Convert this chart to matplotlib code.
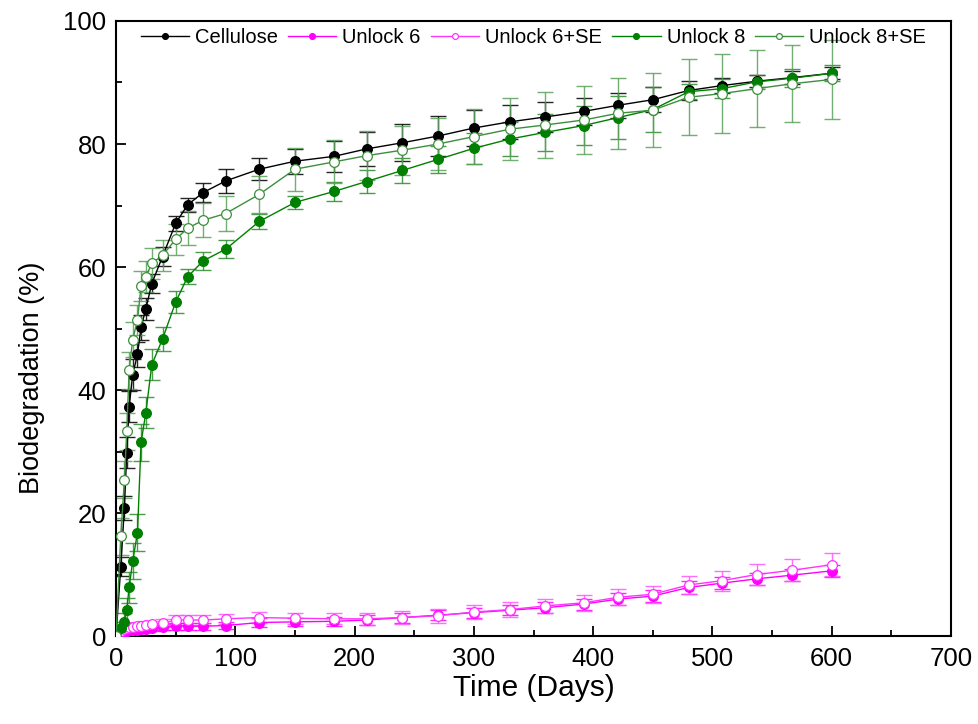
import numpy as np
import matplotlib
matplotlib.use('Agg')
import matplotlib.pyplot as plt
from matplotlib.ticker import MultipleLocator

plt.rcParams['font.family'] = ['Liberation Sans', 'DejaVu Sans']

days = [0, 4, 7, 9, 11, 14, 18, 21, 25, 30, 39, 50, 60, 73, 92, 120, 150, 183, 210,
        240, 270, 300, 330, 360, 392, 421, 450, 480, 508, 537, 567, 600]

cellulose = [0, 11.3, 20.8, 29.8, 37.3, 42.5, 45.8, 50.2, 53.2, 57.3, 61.7, 67.1, 70.1,
             72.1, 74.0, 75.9, 77.2, 78.0, 79.2, 80.2, 81.3, 82.6, 83.6, 84.4, 85.3,
             86.3, 87.2, 88.7, 89.5, 90.2, 90.8, 91.5]
cellulose_err = [0, 1.5, 2.0, 2.5, 2.5, 2.5, 2.0, 2.0, 1.8, 1.5, 1.5, 1.2, 1.1, 1.5,
                 2.0, 1.8, 2.0, 2.5, 2.8, 3.0, 3.2, 3.0, 2.8, 2.5, 2.2, 2.0, 2.0, 1.5,
                 1.2, 1.0, 1.0, 1.0]

unlock6 = [0, 0.5, 0.7, 0.8, 0.9, 1.0, 1.0, 1.1, 1.2, 1.3, 1.4, 1.6, 1.6, 1.6, 1.7,
           2.2, 2.3, 2.4, 2.6, 3.0, 3.4, 3.8, 4.2, 4.6, 5.2, 6.0, 6.5, 7.9, 8.6, 9.3,
           9.9, 10.6]
unlock6_err = [0, 0.3, 0.3, 0.4, 0.4, 0.4, 0.5, 0.5, 0.5, 0.5, 0.5, 0.6, 0.6, 0.6,
               0.6, 0.7, 0.7, 0.7, 0.8, 0.8, 0.8, 0.8, 0.8, 0.9, 0.9, 1.0, 1.0, 1.0,
               1.0, 1.0, 1.0, 1.0]

unlock6_se = [0, 0.8, 1.1, 1.3, 1.4, 1.5, 1.6, 1.7, 1.8, 1.9, 2.1, 2.6, 2.6, 2.6, 2.8,
              3.0, 2.9, 2.8, 2.8, 3.0, 3.3, 3.9, 4.3, 4.9, 5.4, 6.3, 6.8, 8.3, 9.0,
              10.0, 10.7, 11.6]
unlock6_se_err = [0, 0.4, 0.4, 0.5, 0.5, 0.5, 0.5, 0.6, 0.6, 0.6, 0.7, 0.8, 0.8, 0.8,
                  0.8, 0.9, 0.9, 0.9, 1.0, 1.0, 1.1, 1.1, 1.2, 1.2, 1.3, 1.3, 1.4, 1.5,
                  1.6, 1.7, 1.8, 1.9]

unlock8 = [0, 1.3, 2.3, 4.2, 7.9, 12.2, 16.8, 31.5, 36.3, 44.1, 48.3, 54.3, 58.4, 61.0,
           62.9, 67.4, 70.5, 72.3, 73.9, 75.7, 77.5, 79.3, 80.8, 81.9, 83.0, 84.3, 85.6,
           88.5, 89.0, 90.1, 90.7, 91.5]
unlock8_err = [0, 1.0, 1.5, 2.0, 2.5, 3.0, 3.0, 3.0, 2.5, 2.5, 2.0, 1.8, 1.2, 1.5, 1.5,
               1.2, 1.1, 1.5, 1.8, 2.0, 2.2, 2.5, 2.8, 3.0, 3.2, 3.5, 3.6, 1.2, 1.5, 1.2,
               1.5, 1.3]

unlock8_se = [0, 16.2, 25.4, 33.3, 43.2, 48.2, 51.4, 56.9, 58.4, 60.6, 61.9, 64.5, 66.3,
              67.6, 68.7, 71.8, 75.9, 77.1, 78.1, 79.0, 80.0, 81.2, 82.4, 83.1, 83.9,
              85.0, 85.5, 87.6, 88.2, 89.0, 89.8, 90.5]
unlock8_se_err = [0, 3.0, 3.0, 3.0, 3.0, 2.8, 2.5, 2.5, 2.5, 2.5, 2.5, 2.5, 2.8, 2.8,
                  2.8, 3.0, 3.5, 3.5, 4.0, 4.0, 4.3, 4.5, 5.0, 5.3, 5.6, 5.8, 6.0, 6.2,
                  6.4, 6.3, 6.3, 6.4]

series = [
    ("Cellulose", cellulose, cellulose_err, 'black', 'black', 'black', 'black'),
    ("Unlock 6", unlock6, unlock6_err, '#ff00ff', '#ff00ff', '#ff00ff', '#ff00ff'),
    ("Unlock 6+SE", unlock6_se, unlock6_se_err, '#ff33ff', 'white', '#ff33ff', '#ff55ff'),
    ("Unlock 8", unlock8, unlock8_err, '#008000', '#008000', '#008000', '#2e8b2e'),
    ("Unlock 8+SE", unlock8_se, unlock8_se_err, '#3c8f3c', 'white', '#3c8f3c', '#5aa05a'),
]

fig, ax = plt.subplots(figsize=(9.79, 7.24), dpi=100)
fig.subplots_adjust(left=0.1185, right=0.9714, top=0.971, bottom=0.1215)

for name, y, err, lc, fc, ec, errc in series:
    ax.errorbar(days, y, yerr=err, fmt='none', ecolor=errc, elinewidth=1.0,
                capsize=5.5, capthick=1.0, alpha=0.85, zorder=2)
    ax.plot(days, y, '-', color=lc, lw=1.0, marker='o', ms=7, mfc=fc, mec=ec,
            mew=0.9, label=name, zorder=3)

ax.set_xlim(0, 700)
ax.set_ylim(0, 100)
ax.xaxis.set_major_locator(MultipleLocator(100))
ax.xaxis.set_minor_locator(MultipleLocator(50))
ax.yaxis.set_major_locator(MultipleLocator(20))
ax.yaxis.set_minor_locator(MultipleLocator(10))
ax.tick_params(which='both', direction='in', top=False, right=False, labelsize=18.5, width=1.3)
ax.tick_params(which='major', length=7)
ax.tick_params(axis='x', which='major', pad=8)
ax.tick_params(axis='y', which='major', pad=7)
ax.tick_params(which='minor', length=4)
for s in ax.spines.values():
    s.set_linewidth(1.5)

ax.set_xlabel("Time (Days)", fontsize=21.5)
ax.set_ylabel("Biodegradation (%)", fontsize=19.5)
ax.xaxis.set_label_coords(0.5, -0.061)
ax.yaxis.set_label_coords(-0.085, 0.42)

ax.legend(loc='upper center', bbox_to_anchor=(0.5, 1.012), ncol=5, frameon=False,
          fontsize=14.5, markerscale=0.6, handlelength=2.4, handletextpad=0.3,
          columnspacing=0.5, borderaxespad=0.3)

plt.savefig('out.png', dpi=100)
